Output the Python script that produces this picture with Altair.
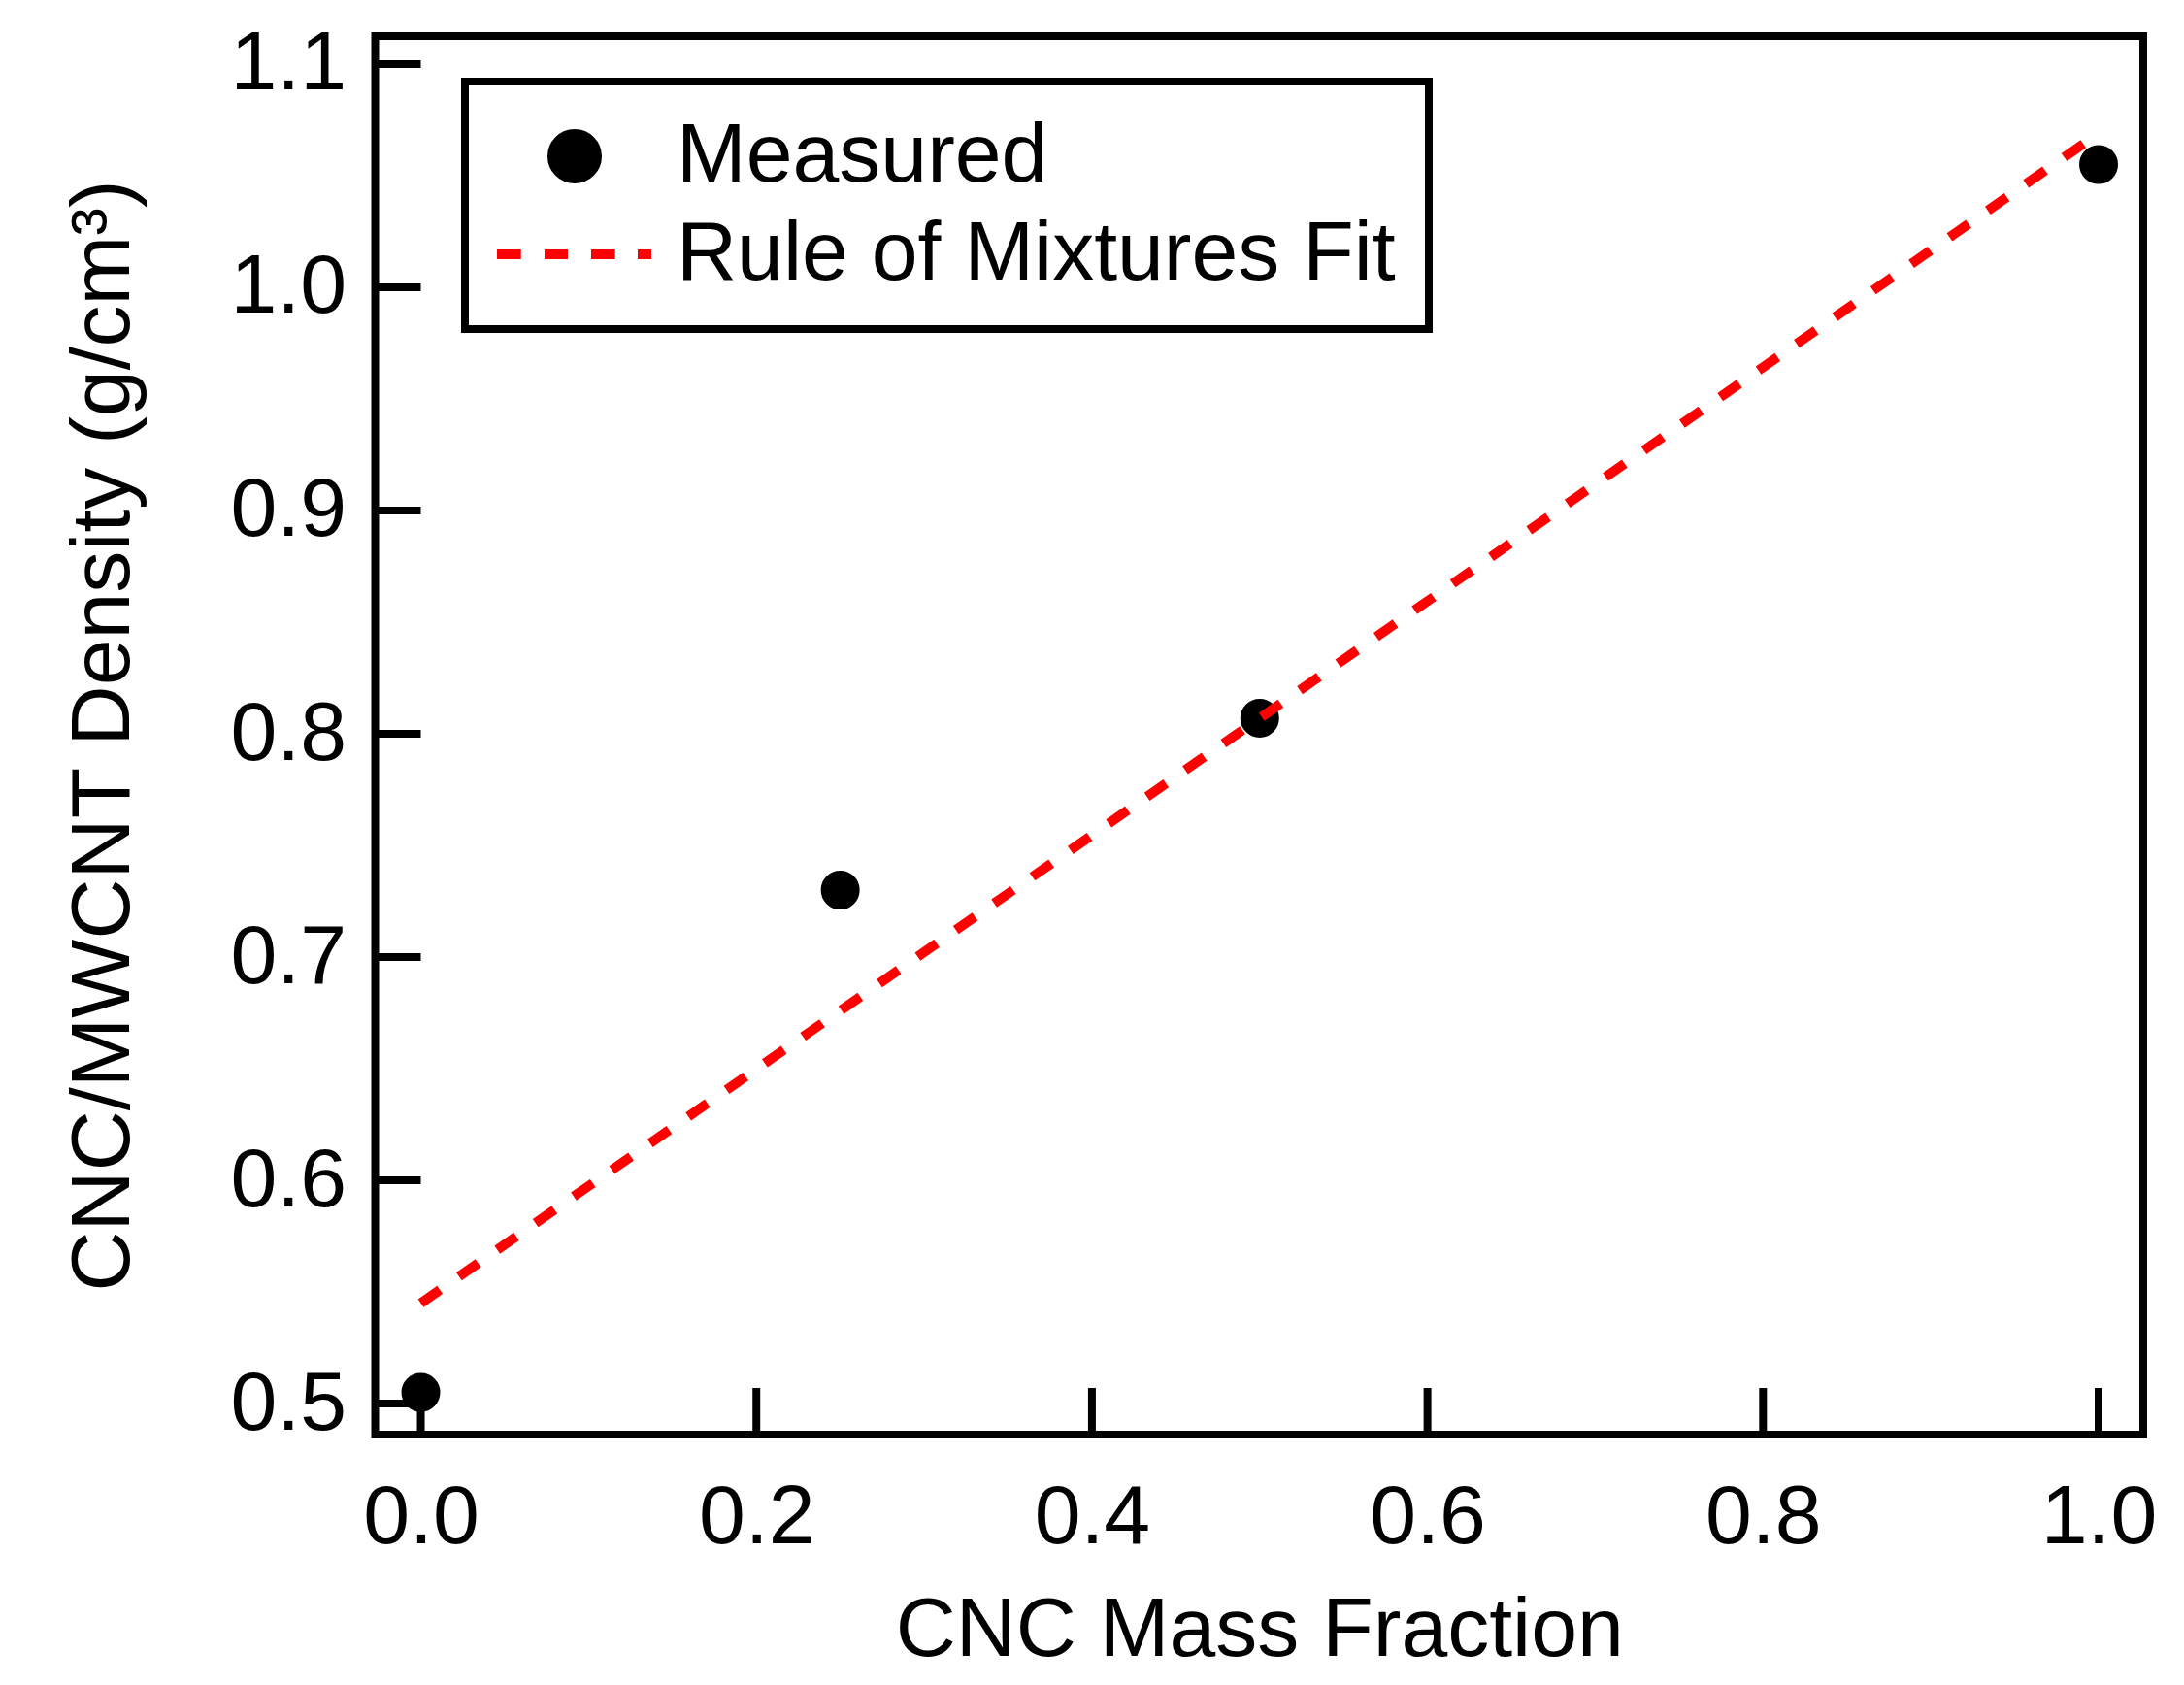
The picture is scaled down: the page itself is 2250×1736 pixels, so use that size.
import altair as alt
import pandas as pd

# ---- data ----
meas_x = [0.0, 0.25, 0.5, 1.0]
meas_y = [0.505, 0.730, 0.807, 1.055]
fit_x = [0.0, 0.25, 0.5, 0.75, 1.0]
fit_y = [0.545, 0.676, 0.807, 0.938, 1.069]
x_ticks = [0.0, 0.2, 0.4, 0.6, 0.8, 1.0]
y_ticks = [0.5, 0.6, 0.7, 0.8, 0.9, 1.0, 1.1]
series = ["Measured", "Rule of Mixtures Fit"]

W, H = 1821.5, 1441
FONT = "Liberation Sans, Arial, sans-serif"
FS = 86

xs = alt.Scale(domain=[-0.0272, 1.0266], nice=False, zero=False)
ys = alt.Scale(domain=[0.4861, 1.1126], nice=False, zero=False)

meas = pd.DataFrame({"x": meas_x, "y": meas_y, "series": series[0]})
fit = pd.DataFrame({"x": fit_x, "y": fit_y})
xt = pd.DataFrame({"v": x_ticks})
yt = pd.DataFrame({"v": y_ticks})

DASH_PATH = "M-3.478,0L-2.404,0M-1.348,0L-0.304,0M0.739,0L1.813,0M2.826,0L3.435,0"

xaxis = alt.Axis(values=x_ticks, format=".1f", title="CNC Mass Fraction",
                 ticks=False, tickSize=0, domain=False, grid=False,
                 labelPadding=43, titlePadding=31)
yaxis = alt.Axis(values=y_ticks, format=".1f", title="CNC/MWCNT Density (g/cm³)",
                 ticks=False, tickSize=0, domain=False, grid=False,
                 labelPadding=30, titlePadding=86)

leg = alt.Legend(title=None, orient="none", legendX=92.5, legendY=47,
                 padding=34, rowPadding=15, symbolSize=2116, symbolStrokeWidth=10,
                 symbolOffset=36, labelOffset=62, labelLimit=3000,
                 labelFont=FONT, labelFontSize=FS, labelColor="black",
                 strokeColor="black", fillColor="white")

points = alt.Chart(meas).mark_point(filled=False, strokeWidth=10, size=900, opacity=1).encode(
    x=alt.X("x:Q", scale=xs, axis=xaxis),
    y=alt.Y("y:Q", scale=ys, axis=yaxis),
    fill=alt.Fill("series:N", scale=alt.Scale(domain=series, range=["black", "red"]), legend=leg),
    stroke=alt.Stroke("series:N", scale=alt.Scale(domain=series, range=["black", "red"]), legend=leg),
    shape=alt.Shape("series:N", scale=alt.Scale(domain=series, range=["circle", DASH_PATH]), legend=leg),
)

line = alt.Chart(fit).mark_line(color="red", strokeWidth=10, strokeDash=[24, 24], strokeCap="butt").encode(
    x=alt.X("x:Q", scale=xs, axis=xaxis),
    y=alt.Y("y:Q", scale=ys, axis=yaxis),
)

xtick = alt.Chart(xt).mark_rule(color="black", strokeWidth=8, strokeCap="butt").encode(
    x=alt.X("v:Q", scale=xs, axis=xaxis),
    y=alt.value(H), y2=alt.value(H - 48),
)
ytick = alt.Chart(yt).mark_rule(color="black", strokeWidth=8, strokeCap="butt").encode(
    y=alt.Y("v:Q", scale=ys, axis=yaxis),
    x=alt.value(0), x2=alt.value(47),
)

chart = alt.layer(xtick, ytick, points, line).properties(
    width=W, height=H,
    padding={"left": 378.5, "top": 29, "right": 30, "bottom": 245},
    autosize=alt.AutoSizeParams(type="none"),
    background="white",
).configure_view(
    stroke="black", strokeWidth=8
).configure_axis(
    labelFont=FONT, labelFontSize=FS, labelColor="black",
    titleFont=FONT, titleFontSize=FS, titleFontWeight="normal", titleColor="black",
).configure_legend(
    strokeWidth=8
)

chart.save("out.html", embed_options={"renderer": "svg", "actions": False})
